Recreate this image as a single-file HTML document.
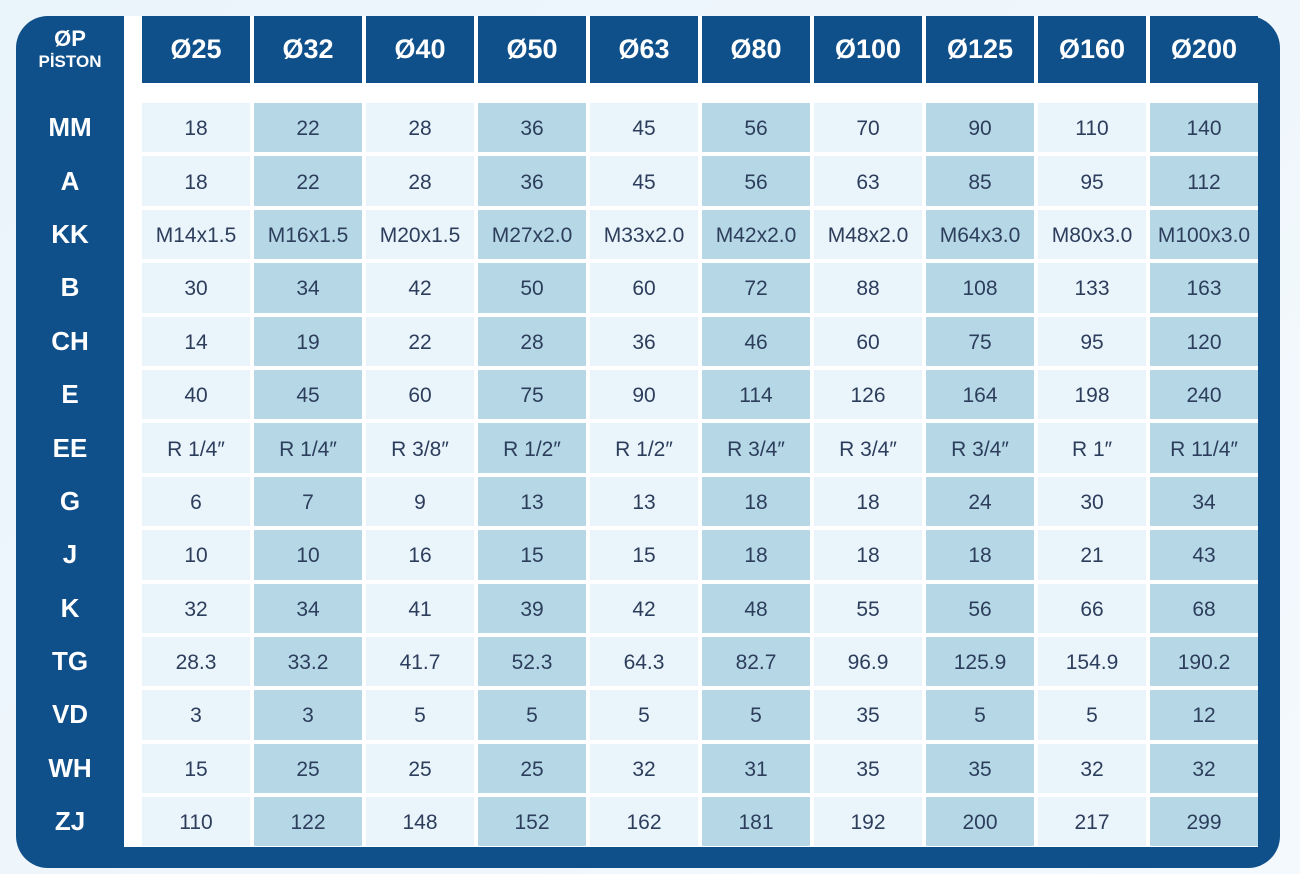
<!DOCTYPE html>
<html><head><meta charset="utf-8"><style>
body{margin:0;width:1300px;height:874px;background:linear-gradient(135deg,#eaf4fb,#f4f9fd);position:relative;overflow:hidden;font-family:"Liberation Sans",sans-serif}
.panel{position:absolute;left:16px;top:16px;width:1264px;height:852px;background:#0f4f8a;border-radius:32px}
.white{position:absolute;left:124px;top:16px;width:1134px;height:831px;background:#fff}
.hdr{position:absolute;left:142px;top:16px;display:grid;grid-template-columns:repeat(10,108px);column-gap:4px;height:67px}
.hdr div{background:#0f4f8a;color:#fff;font-weight:bold;font-size:27px;display:flex;align-items:center;justify-content:center}
.corner{position:absolute;left:16px;top:16px;width:108px;height:67px;color:#fff;font-weight:bold;text-align:center;display:flex;flex-direction:column;justify-content:center}
.lab{position:absolute;left:16px;top:103px;width:108px;display:grid;grid-template-rows:repeat(14,49.4px);row-gap:4px}
.lab div{color:#fff;font-weight:bold;font-size:26px;display:flex;align-items:center;justify-content:center}
.body{position:absolute;left:142px;top:103px;display:grid;grid-template-columns:repeat(10,108px);grid-auto-rows:49.4px;gap:4px}
.body div{background:#eaf4fb;color:#2d3e5c;font-size:21px;display:flex;align-items:center;justify-content:center;padding-top:3px;box-sizing:border-box}
.body div:nth-child(2n){background:#b6d8e6}
</style></head><body>
<div class="panel"></div>
<div class="white"></div>
<div class="corner"><div style="font-size:22px;line-height:24px">ØP</div><div style="font-size:17px;line-height:21px">PİSTON</div></div>
<div class="hdr"><div>Ø25</div><div>Ø32</div><div>Ø40</div><div>Ø50</div><div>Ø63</div><div>Ø80</div><div>Ø100</div><div>Ø125</div><div>Ø160</div><div>Ø200</div></div>
<div class="lab"><div>MM</div><div>A</div><div>KK</div><div>B</div><div>CH</div><div>E</div><div>EE</div><div>G</div><div>J</div><div>K</div><div>TG</div><div>VD</div><div>WH</div><div>ZJ</div></div>
<div class="body">
<div>18</div><div>22</div><div>28</div><div>36</div><div>45</div><div>56</div><div>70</div><div>90</div><div>110</div><div>140</div>
<div>18</div><div>22</div><div>28</div><div>36</div><div>45</div><div>56</div><div>63</div><div>85</div><div>95</div><div>112</div>
<div>M14x1.5</div><div>M16x1.5</div><div>M20x1.5</div><div>M27x2.0</div><div>M33x2.0</div><div>M42x2.0</div><div>M48x2.0</div><div>M64x3.0</div><div>M80x3.0</div><div>M100x3.0</div>
<div>30</div><div>34</div><div>42</div><div>50</div><div>60</div><div>72</div><div>88</div><div>108</div><div>133</div><div>163</div>
<div>14</div><div>19</div><div>22</div><div>28</div><div>36</div><div>46</div><div>60</div><div>75</div><div>95</div><div>120</div>
<div>40</div><div>45</div><div>60</div><div>75</div><div>90</div><div>114</div><div>126</div><div>164</div><div>198</div><div>240</div>
<div>R 1/4″</div><div>R 1/4″</div><div>R 3/8″</div><div>R 1/2″</div><div>R 1/2″</div><div>R 3/4″</div><div>R 3/4″</div><div>R 3/4″</div><div>R 1″</div><div>R 11/4″</div>
<div>6</div><div>7</div><div>9</div><div>13</div><div>13</div><div>18</div><div>18</div><div>24</div><div>30</div><div>34</div>
<div>10</div><div>10</div><div>16</div><div>15</div><div>15</div><div>18</div><div>18</div><div>18</div><div>21</div><div>43</div>
<div>32</div><div>34</div><div>41</div><div>39</div><div>42</div><div>48</div><div>55</div><div>56</div><div>66</div><div>68</div>
<div>28.3</div><div>33.2</div><div>41.7</div><div>52.3</div><div>64.3</div><div>82.7</div><div>96.9</div><div>125.9</div><div>154.9</div><div>190.2</div>
<div>3</div><div>3</div><div>5</div><div>5</div><div>5</div><div>5</div><div>35</div><div>5</div><div>5</div><div>12</div>
<div>15</div><div>25</div><div>25</div><div>25</div><div>32</div><div>31</div><div>35</div><div>35</div><div>32</div><div>32</div>
<div>110</div><div>122</div><div>148</div><div>152</div><div>162</div><div>181</div><div>192</div><div>200</div><div>217</div><div>299</div>
</div>
</body></html>
